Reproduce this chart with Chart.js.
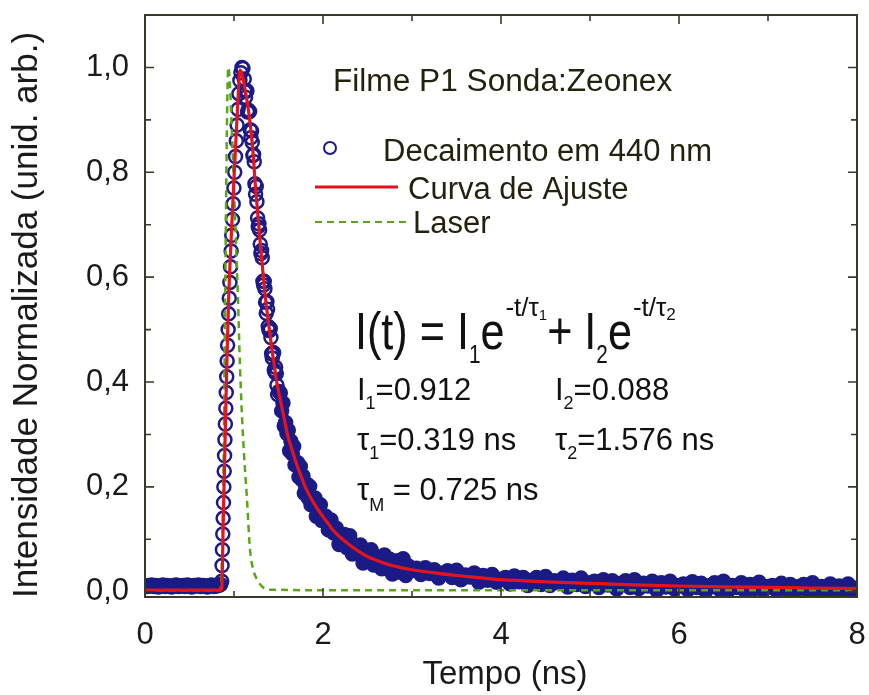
<!DOCTYPE html>
<html>
<head>
<meta charset="utf-8">
<script src="https://cdn.jsdelivr.net/npm/chart.js@4.4.1/dist/chart.umd.min.js"></script>
<style>
  html, body { margin: 0; padding: 0; background: #fff; }
  canvas { display: block; }
</style>
</head>
<body>
<canvas id="chart" width="869" height="695"></canvas>
<script>
// Decaimento em 440 nm  [tempo (ns), intensidade]
const decayPoints = [
  [0.000,0.012],[0.025,0.010],[0.050,0.011],[0.075,0.013],[0.100,0.010],[0.125,0.012],[0.150,0.009],
  [0.175,0.011],[0.200,0.013],[0.225,0.010],[0.250,0.012],[0.275,0.011],[0.300,0.009],[0.325,0.012],
  [0.350,0.013],[0.375,0.010],[0.400,0.011],[0.425,0.012],[0.450,0.010],[0.475,0.013],[0.500,0.011],
  [0.525,0.009],[0.550,0.012],[0.575,0.011],[0.600,0.013],[0.625,0.010],[0.650,0.012],[0.675,0.011],
  [0.700,0.009],[0.725,0.012],[0.750,0.013],[0.775,0.010],[0.800,0.011],[0.825,0.012],[0.850,0.014],
  // subida
  [0.862,0.02],[0.866,0.05],[0.870,0.08],[0.874,0.11],[0.878,0.14],[0.882,0.17],[0.886,0.20],
  [0.890,0.23],[0.894,0.26],[0.898,0.29],[0.903,0.32],[0.908,0.35],[0.913,0.38],[0.918,0.41],
  [0.923,0.44],[0.928,0.47],[0.934,0.50],[0.940,0.53],[0.947,0.56],[0.954,0.59],[0.961,0.62],
  [0.968,0.65],[0.975,0.68],[0.983,0.71],[0.991,0.74],[0.999,0.77],[1.008,0.80],[1.017,0.83],
  [1.026,0.86],[1.035,0.89],[1.045,0.92],[1.055,0.95],[1.066,0.975],[1.078,0.99],[1.090,1.00],
  [1.100,0.998],
  // decaimento
  [1.115,0.978],[1.1225,0.954],[1.130,0.943],[1.1375,0.956],[1.145,0.955],[1.1525,0.915],[1.160,0.919],
  [1.1675,0.916],[1.175,0.916],[1.1825,0.881],[1.190,0.866],[1.1975,0.879],[1.205,0.857],[1.2125,0.832],
  [1.220,0.834],[1.2275,0.820],[1.235,0.778],[1.2425,0.758],[1.250,0.773],[1.2575,0.744],[1.265,0.713],
  [1.2725,0.696],[1.280,0.702],[1.2875,0.690],[1.295,0.663],[1.3025,0.645],[1.310,0.651],[1.3175,0.637],
  [1.325,0.592],[1.3325,0.585],[1.340,0.592],[1.3475,0.578],[1.355,0.552],[1.3625,0.531],[1.370,0.553],
  [1.3775,0.539],[1.385,0.506],[1.3925,0.499],[1.400,0.498],[1.4075,0.502],[1.415,0.485],[1.4225,0.454],
  [1.430,0.446],[1.4375,0.456],[1.445,0.456],[1.4525,0.423],[1.460,0.419],[1.4675,0.428],[1.475,0.416],
  [1.4825,0.394],[1.490,0.376],[1.505,0.382],[1.520,0.379],
  [1.535,0.345],[1.550,0.360],[1.565,0.316],[1.580,0.323],[1.595,0.302],[1.610,0.308],[1.625,0.269],
  [1.640,0.287],[1.655,0.263],[1.670,0.277],[1.685,0.242],[1.700,0.246],[1.715,0.246],[1.730,0.219],
  [1.745,0.239],[1.760,0.214],[1.775,0.221],[1.790,0.188],[1.805,0.201],[1.820,0.205],[1.835,0.179],
  [1.850,0.201],[1.865,0.166],[1.880,0.180],[1.895,0.168],[1.910,0.179],[1.925,0.144],[1.940,0.167],
  [1.955,0.148],[1.970,0.166],[1.985,0.136],[2.000,0.144],
  [2.03,0.144],[2.06,0.118],[2.09,0.137],[2.12,0.112],[2.15,0.121],[2.18,0.090],[2.21,0.105],
  [2.24,0.109],[2.27,0.084],[2.30,0.107],[2.33,0.072],[2.36,0.088],[2.39,0.076],[2.42,0.089],
  [2.45,0.055],[2.48,0.078],[2.51,0.060],[2.54,0.080],[2.57,0.051],[2.60,0.061],[2.63,0.066],
  [2.66,0.044],[2.69,0.070],[2.72,0.049],[2.75,0.062],[2.78,0.034],[2.81,0.052],[2.84,0.059],
  [2.87,0.037],[2.90,0.063],[2.93,0.031],[2.96,0.049],[2.99,0.040],
  [3.05,0.045],[3.10,0.033],[3.15,0.046],[3.20,0.035],[3.25,0.042],[3.30,0.026],[3.35,0.036],
  [3.40,0.040],[3.45,0.027],[3.50,0.041],[3.55,0.023],[3.60,0.032],[3.65,0.028],[3.70,0.036],
  [3.75,0.018],[3.80,0.031],[3.85,0.022],[3.90,0.033],[3.95,0.018],[4.00,0.024],[4.05,0.027],
  [4.10,0.015],[4.15,0.030],[4.20,0.019],[4.25,0.027],[4.30,0.012],[4.35,0.022],[4.40,0.027],
  [4.45,0.014],[4.50,0.029],[4.55,0.012],[4.60,0.021],[4.65,0.017],[4.70,0.026],[4.75,0.009],
  [4.80,0.022],[4.85,0.014],[4.90,0.026],[4.95,0.010],[5.00,0.017],[5.05,0.020],[5.10,0.008],
  [5.15,0.023],[5.20,0.013],[5.25,0.021],[5.30,0.005],[5.35,0.016],[5.40,0.021],[5.45,0.008],
  [5.50,0.023],[5.55,0.006],[5.60,0.016],[5.65,0.011],[5.70,0.020],[5.75,0.003],[5.80,0.017],
  [5.85,0.009],[5.90,0.020],[5.95,0.005],[6.00,0.012],[6.05,0.015],[6.10,0.004],[6.15,0.019],
  [6.20,0.008],[6.25,0.016],[6.30,0.001],[6.35,0.012],[6.40,0.017],[6.45,0.005],[6.50,0.020],
  [6.55,0.002],[6.60,0.012],[6.65,0.008],[6.70,0.017],[6.75,0.000],[6.80,0.014],[6.85,0.006],
  [6.90,0.018],[6.95,0.003],[7.00,0.010],[7.05,0.012],[7.10,0.001],[7.15,0.016],[7.20,0.006],
  [7.25,0.014],[7.30,-0.001],[7.35,0.010],[7.40,0.014],[7.45,0.002],[7.50,0.017],[7.55,0.000],
  [7.60,0.010],[7.65,0.006],[7.70,0.015],[7.75,-0.002],[7.80,0.011],[7.85,0.003],[7.90,0.015],
  [7.95,0.000],[8.00,0.007]
];

// Curva de Ajuste
const fitPoints = [
  [0,0.003],[0.5,0.003],[0.85,0.003],[0.862,0.006],[0.88,0.14],[0.90,0.29],[0.92,0.44],[0.94,0.56],
  [0.97,0.68],[1.00,0.79],[1.03,0.89],[1.05,0.955],[1.067,0.995],[1.085,0.99],[1.10,0.98],
  [1.12,0.962],[1.15,0.932],[1.18,0.895],[1.21,0.845],[1.24,0.775],[1.27,0.716],[1.30,0.655],
  [1.33,0.60],[1.36,0.55],[1.39,0.51],[1.42,0.47],[1.45,0.435],[1.48,0.40],[1.51,0.375],
  [1.54,0.35],[1.57,0.325],[1.60,0.30],[1.65,0.272],[1.70,0.245],[1.75,0.222],[1.80,0.20],
  [1.85,0.183],[1.90,0.168],[1.95,0.155],[2.00,0.143],[2.05,0.132],[2.10,0.12],[2.15,0.111],
  [2.20,0.103],[2.30,0.089],[2.40,0.077],[2.50,0.067],[2.60,0.06],[2.70,0.054],[2.80,0.049],
  [2.90,0.045],[3.00,0.042],[3.25,0.036],[3.50,0.031],[3.75,0.027],[4.00,0.023],[4.50,0.019],
  [5.00,0.016],[5.50,0.013],[6.00,0.011],[6.50,0.0095],[7.00,0.0085],[7.50,0.007],[8.00,0.006]
];

// Laser (IRF)
const laserPoints = [
  [0,0.003],[0.5,0.003],[0.84,0.003],[0.86,0.03],[0.88,0.2],[0.90,0.55],[0.92,0.88],[0.935,1.0],
  [0.95,0.98],[0.98,0.86],[1.01,0.72],[1.045,0.557],[1.067,0.43],[1.10,0.30],[1.146,0.176],
  [1.18,0.08],[1.22,0.04],[1.26,0.023],[1.33,0.008],[1.45,0.004],[2.0,0.003],[5.0,0.003],[8.0,0.003]
];

const xMajor = [0, 2, 4, 6, 8];
const xMinor = [1, 3, 5, 7];
const yMajor = [0, 0.2, 0.4, 0.6, 0.8, 1.0];
const yMinor = [0.1, 0.3, 0.5, 0.7, 0.9];

const FONT = '"Liberation Sans", Arial, sans-serif';
const NAVY = '#1b1b86';
const RED = '#e5141c';
const GREEN = '#5aa61a';

const toXY = arr => arr.map(p => ({ x: p[0], y: p[1] }));

// desenha uma sequência de trechos (sub/sobrescritos)
function drawRuns(ctx, x, y, runs, color) {
  ctx.fillStyle = color;
  ctx.textBaseline = 'alphabetic';
  ctx.textAlign = 'left';
  runs.forEach(r => {
    const size = r.size || 31;
    const sx = r.sx || 1;
    ctx.save();
    ctx.font = size + 'px ' + FONT;
    ctx.translate(x, y + (r.dy || 0));
    ctx.scale(sx, 1);
    ctx.fillText(r.t, 0, 0);
    const w = ctx.measureText(r.t).width * sx;
    ctx.restore();
    x += w + (r.gap || 0);
  });
}

const framePlugin = {
  id: 'frame',
  afterDatasetsDraw(chart) {
    const { ctx, chartArea: a, scales: { x, y } } = chart;
    ctx.save();

    // caixa e marcas
    ctx.strokeStyle = '#3a3a2c';
    ctx.lineWidth = 2;
    ctx.strokeRect(a.left, a.top, a.right - a.left, a.bottom - a.top);
    ctx.lineWidth = 1.6;
    ctx.beginPath();
    const xt = (v, len) => {
      const px = x.getPixelForValue(v);
      ctx.moveTo(px, a.bottom); ctx.lineTo(px, a.bottom - len);
      ctx.moveTo(px, a.top); ctx.lineTo(px, a.top + len);
    };
    const yt = (v, len) => {
      const py = y.getPixelForValue(v);
      ctx.moveTo(a.left, py); ctx.lineTo(a.left + len, py);
      ctx.moveTo(a.right, py); ctx.lineTo(a.right - len, py);
    };
    xMajor.forEach(v => xt(v, 9));
    xMinor.forEach(v => xt(v, 6));
    yMajor.forEach(v => yt(v, 9));
    yMinor.forEach(v => yt(v, 6));
    ctx.stroke();

    // títulos dos eixos
    ctx.fillStyle = '#1a1a1a';
    ctx.font = '33px ' + FONT;
    ctx.textAlign = 'center';
    ctx.textBaseline = 'middle';
    ctx.fillText('Tempo (ns)', 505, 675);
    ctx.save();
    ctx.translate(27, 315);
    ctx.rotate(-Math.PI / 2);
    ctx.font = '35px ' + FONT;
    ctx.fillText('Intensidade Normalizada (unid. arb.)', 0, 0);
    ctx.restore();

    // título interno e legenda
    const olive = '#22220e';
    drawRuns(ctx, 333, 91, [{ t: 'Filme P1 Sonda:Zeonex', sx: 1.02 }], olive);

    ctx.strokeStyle = NAVY;
    ctx.lineWidth = 2;
    ctx.beginPath();
    ctx.arc(330, 148, 6, 0, Math.PI * 2);
    ctx.stroke();
    drawRuns(ctx, 383, 161, [{ t: 'Decaimento em 440 nm' }], olive);

    ctx.strokeStyle = RED;
    ctx.lineWidth = 3;
    ctx.beginPath();
    ctx.moveTo(315, 187); ctx.lineTo(398, 187);
    ctx.stroke();
    drawRuns(ctx, 408, 199, [{ t: 'Curva de Ajuste' }], olive);

    ctx.strokeStyle = GREEN;
    ctx.lineWidth = 2.2;
    ctx.setLineDash([7, 5]);
    ctx.beginPath();
    ctx.moveTo(315, 222); ctx.lineTo(408, 222);
    ctx.stroke();
    ctx.setLineDash([]);
    drawRuns(ctx, 413, 233, [{ t: 'Laser' }], olive);

    // equação
    const black = '#111';
    drawRuns(ctx, 355, 349, [
      { t: 'I(t) = I', size: 52, sx: 0.83 },
      { t: '1', size: 25, sx: 0.83, dy: 14 },
      { t: 'e', size: 52, sx: 0.83, gap: 1 },
      { t: '-t/τ', size: 26, dy: -33 },
      { t: '1', size: 15, dy: -29 },
      { t: '+ I', size: 52, sx: 0.83 },
      { t: '2', size: 25, sx: 0.83, dy: 14 },
      { t: 'e', size: 52, sx: 0.83, gap: 1 },
      { t: '-t/τ', size: 26, dy: -33 },
      { t: '2', size: 17, dy: -29 }
    ], black);

    drawRuns(ctx, 357, 400, [{ t: 'I' }, { t: '1', size: 18, dy: 9 }, { t: '=0.912' }], black);
    drawRuns(ctx, 555, 400, [{ t: 'I' }, { t: '2', size: 18, dy: 9 }, { t: '=0.088' }], black);
    drawRuns(ctx, 357, 450, [{ t: 'τ' }, { t: '1', size: 18, dy: 9 }, { t: '=0.319 ns' }], black);
    drawRuns(ctx, 555, 450, [{ t: 'τ' }, { t: '2', size: 18, dy: 9 }, { t: '=1.576 ns' }], black);
    drawRuns(ctx, 357, 500, [{ t: 'τ' }, { t: 'M', size: 18, dy: 11 }, { t: ' = 0.725 ns' }], black);

    ctx.restore();
  }
};

new Chart(document.getElementById('chart'), {
  type: 'scatter',
  data: {
    datasets: [
      {
        label: 'Curva de Ajuste',
        data: toXY(fitPoints),
        showLine: true,
        borderColor: RED,
        borderWidth: 3.2,
        pointRadius: 0,
        cubicInterpolationMode: 'monotone',
        clip: 0,
        order: 1
      },
      {
        label: 'Laser',
        data: toXY(laserPoints),
        showLine: true,
        borderColor: GREEN,
        borderWidth: 2.5,
        borderDash: [7, 5],
        pointRadius: 0,
        cubicInterpolationMode: 'monotone',
        clip: 0,
        order: 2
      },
      {
        label: 'Decaimento em 440 nm',
        data: toXY(decayPoints),
        showLine: false,
        pointStyle: 'circle',
        pointRadius: 6.5,
        pointBorderWidth: 2.5,
        pointBorderColor: NAVY,
        // na cauda os círculos se sobrepõem formando uma faixa cheia
        pointBackgroundColor: c => (c.raw && c.raw.x > 1.5) || (c.raw && c.raw.x < 0.86) ? NAVY : 'rgba(255,255,255,0)',
        clip: 0,
        order: 3
      }
    ]
  },
  options: {
    responsive: false,
    animation: false,
    devicePixelRatio: 1,
    layout: { padding: { top: 15, right: 12, left: 0, bottom: 0 } },
    plugins: { legend: { display: false }, tooltip: { enabled: false } },
    scales: {
      x: {
        type: 'linear',
        min: 0,
        max: 8,
        afterFit: s => { s.height = 98; s.paddingLeft = 0; s.paddingRight = 0; },
        grid: { display: false },
        border: { display: false },
        ticks: {
          stepSize: 2,
          includeBounds: false,
          maxRotation: 0,
          padding: 12,
          color: '#1a1a1a',
          font: { family: FONT, size: 31 }
        }
      },
      y: {
        min: -0.01,
        max: 1.10,
        afterFit: s => { s.width = 145; s.paddingTop = 0; s.paddingBottom = 0; },
        grid: { display: false },
        border: { display: false },
        ticks: {
          stepSize: 0.2,
          includeBounds: false,
          padding: 8,
          color: '#1a1a1a',
          font: { family: FONT, size: 31 },
          callback: v => v.toFixed(1).replace('.', ',')
        }
      }
    }
  },
  plugins: [framePlugin]
});
</script>
</body>
</html>
